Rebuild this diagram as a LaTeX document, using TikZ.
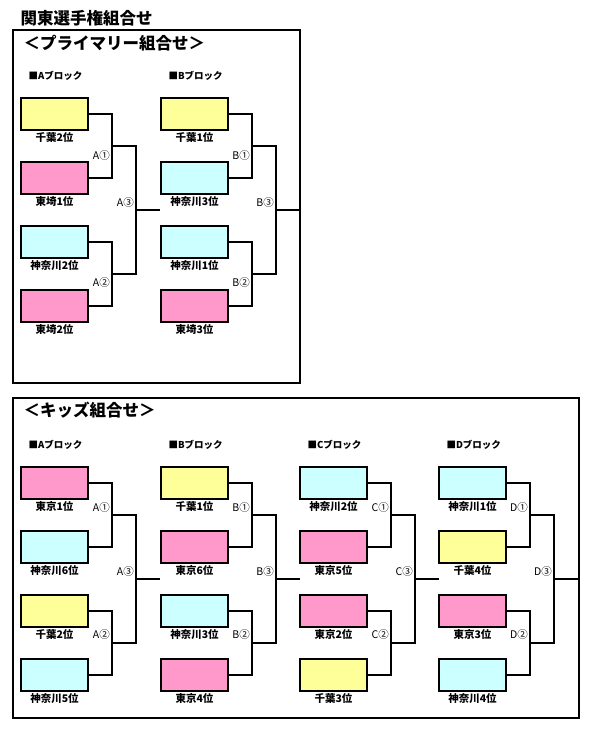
\documentclass[tikz,border=0pt]{standalone}
\usepackage{fontspec}
\setmainfont{Noto Sans CJK JP}
\usepackage{tikz}
\definecolor{chiba}{HTML}{FFFF99}
\definecolor{tozai}{HTML}{FF99CC}
\definecolor{kana}{HTML}{CCFFFF}
\tikzstyle{team} = [rectangle, minimum width=67pt, minimum height=32pt, draw=black, line width=1.3pt]
\tikzstyle{teamname} = [anchor=north, font=\fontsize{10.5}{11}\selectfont\bfseries, inner sep=1.5pt]
\tikzstyle{blocklabel} = [anchor=west, font=\fontsize{9.5}{10}\selectfont\bfseries]
\tikzstyle{match} = [anchor=east, font=\fontsize{10.5}{11}\selectfont, inner sep=1pt]
\tikzstyle{bracket} = [line width=2.2pt]
\tikzstyle{frame} = [line width=1.8pt]
\tikzstyle{heading} = [anchor=west, font=\fontsize{16.5}{17}\selectfont\bfseries]
% one block: name, x, y, letter, label shift, teams
\newcommand{\bracketblock}[6]{%
  \node[blocklabel] (#1-head) at (#2+4,#3-22) {■#4ブロック};
  \foreach \c/\t [count=\i] in {#6} {
    \node[team, fill=\c] (#1-\i) at (#2+33.5,#3+16+\i*64-64) {};
    \node[teamname] (#1-n\i) at (#1-\i.south) {\t};
  }
  \coordinate (#1-r1) at (#2+91,#3+48);
  \coordinate (#1-r2) at (#2+91,#3+176);
  \coordinate (#1-f) at (#2+115,#3+112);
  \coordinate (#1-out) at (#2+139,#3+112);
  \draw[bracket] (#1-1.east) -| (#1-r1) |- (#1-2.east);
  \draw[bracket] (#1-3.east) -| (#1-r2) |- (#1-4.east);
  \draw[bracket] (#1-r1) -| (#1-f) |- (#1-r2);
  \draw[bracket] (#1-f) -- (#1-out);
  \node[match] (#1-m1) at (#2+90,#3+41+#5) {#4①};
  \node[match] (#1-m2) at (#2+90,#3+168+#5) {#4②};
  \node[match] (#1-m3) at (#2+114,#3+105) {#4③};
}
\begin{document}
\begin{tikzpicture}[x=1pt, y=-1pt]
\useasboundingbox (0,0) rectangle (600,736);
% headings and frames
\node[heading] (title) at (17,18) {関東選手権組合せ};
\draw[frame] (13,30) rectangle (300,383);
\node[heading] (prim) at (20,43) {＜プライマリー組合せ＞};
\draw[frame] (13,398) rectangle (579,718);
\node[heading] (kids) at (20,410) {＜キッズ組合せ＞};
% primary
\bracketblock{pa}{21}{98}{A}{17}{chiba/千葉2位, tozai/東埼1位, kana/神奈川2位, tozai/東埼2位}
\bracketblock{pb}{161}{98}{B}{17}{chiba/千葉1位, kana/神奈川3位, kana/神奈川1位, tozai/東埼3位}
% kids
\bracketblock{ka}{21}{467}{A}{0}{tozai/東京1位, kana/神奈川6位, chiba/千葉2位, kana/神奈川5位}
\bracketblock{kb}{161}{467}{B}{0}{chiba/千葉1位, tozai/東京6位, kana/神奈川3位, tozai/東京4位}
\bracketblock{kc}{300}{467}{C}{0}{kana/神奈川2位, tozai/東京5位, tozai/東京2位, chiba/千葉3位}
\bracketblock{kd}{439}{467}{D}{0}{kana/神奈川1位, chiba/千葉4位, tozai/東京3位, kana/神奈川4位}
\end{tikzpicture}
\end{document}
